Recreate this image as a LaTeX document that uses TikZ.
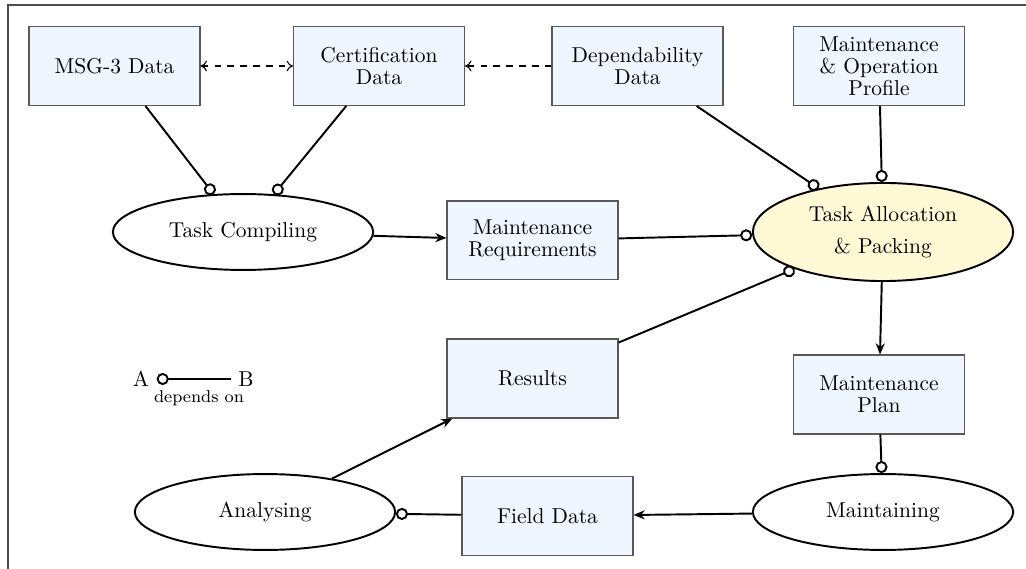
\documentclass[tikz,border=0pt]{standalone}
\usetikzlibrary{shapes.geometric,arrows.meta}
\definecolor{boxfill}{RGB}{239,246,255}
\definecolor{tapfill}{RGB}{255,249,214}
\begin{document}
\begin{tikzpicture}[x=0.465pt,y=-0.465pt,
  databox/.style={draw=black!65, line width=0.5pt, fill=boxfill, minimum width=79.5pt,
    minimum height=36.7pt, align=center, inner sep=2pt, font=\fontsize{10}{10.2}\selectfont},
  proc/.style={ellipse, draw, line width=0.9pt, fill=white, minimum width=121pt, minimum height=35.3pt,
    inner sep=0pt, align=center},
  depline/.style={line width=0.9pt, -{Circle[open,length=5.6pt]}},
  flow/.style={line width=0.9pt, -{Stealth[length=5.2pt,width=4.2pt]}},
  link/.style={dashed, line width=0.5pt}]
\useasboundingbox (0,0) rectangle (1026,569);
\draw[black!70, line width=0.6pt] (1026,5) -- (8,5) -- (8,569);

\node[databox] (msg) at (114.5,66) {MSG-3 Data};
\node[databox] (cert) at (379,66) {Certification\\Data};
\node[databox] (dep) at (637.5,66) {Dependability\\Data};
\node[databox] (mop) at (879,66) {Maintenance\\\& Operation\\Profile};
\node[databox] (mr) at (532.5,240.5) {Maintenance\\Requirements};
\node[databox] (res) at (532.5,378.5) {Results};
\node[databox] (mp) at (879,394.5) {Maintenance\\Plan};
\node[databox] (fd) at (547.5,516) {Field Data};

\node[proc] (tc) at (243,232) {Task Compiling};
\node[proc, fill=tapfill, minimum height=45.6pt] (tap) at (883,232) {Task Allocation\\[3.3pt]\& Packing};
\node[proc] (an) at (265,512) {Analysing};
\node[proc] (mt) at (883,512) {Maintaining};

\draw[depline] (msg) -- (tc);
\draw[depline] (cert) -- (tc);
\draw[flow] (tc) -- (mr);
\draw[depline] (mr) -- (tap);
\draw[depline] (dep) -- (tap);
\draw[depline] (mop) -- (tap);
\draw[depline] (res) -- (tap);
\draw[flow] (tap) -- (mp);
\draw[depline] (mp) -- (mt);
\draw[flow] (mt) -- (fd);
\draw[depline] (fd) -- (an);
\draw[flow] (an) -- (res);
\draw[link, {To[length=3pt,width=5pt]}-{To[length=3pt,width=5pt]}] (msg) -- (cert);
\draw[link, -{To[length=3pt,width=5pt]}] (dep) -- (cert);

\node (la) at (141,379) {A};
\node (lb) at (246,379) {B};
\draw[depline] (lb) -- (la);
\node[font=\footnotesize] (ldep) at (199,398) {depends on};
\end{tikzpicture}
\end{document}
